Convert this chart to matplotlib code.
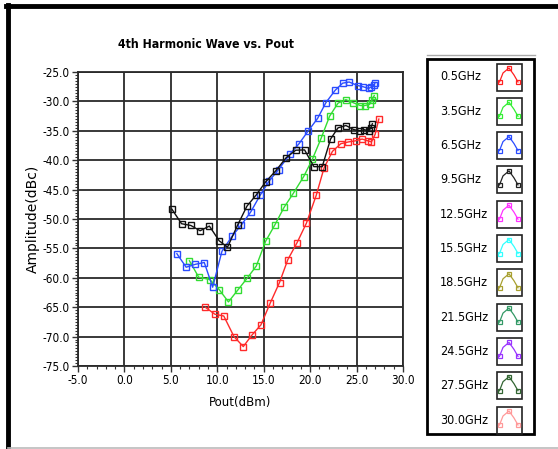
import matplotlib
matplotlib.use("Agg")
import matplotlib.pyplot as plt
from matplotlib.ticker import MultipleLocator, FormatStrFormatter
from matplotlib.patches import Rectangle
from matplotlib.lines import Line2D

plt.rcParams["font.family"] = ["DejaVu Sans"]
plt.rcParams["font.stretch"] = "condensed"

# ---------------- data ----------------
x_05 = [8.7, 9.75, 10.7, 11.8, 12.8, 13.7, 14.7, 15.7, 16.7, 17.6, 18.6, 19.6,
        20.65, 21.5, 22.4, 23.3, 24.1, 24.9, 25.6, 26.2, 26.6, 27.0, 27.4]
y_05 = [-65.0, -66.2, -66.5, -70.0, -71.7, -69.8, -68.0, -64.3, -60.8, -56.9, -54.0, -50.7,
        -46.0, -41.3, -38.5, -37.2, -36.9, -36.7, -36.4, -36.7, -36.9, -35.6, -33.0]

x_35 = [7.0, 8.0, 9.2, 10.2, 11.2, 12.2, 13.2, 14.2, 15.2, 16.2, 17.2, 18.2,
        19.3, 20.25, 21.2, 22.1, 23.0, 23.85, 24.6, 25.4, 25.9, 26.4, 26.65, 26.9]
y_35 = [-57.1, -59.9, -60.3, -62.0, -64.1, -62.1, -60.1, -58.0, -53.8, -51.0, -48.0, -45.6,
        -42.8, -39.8, -36.2, -32.5, -30.3, -29.7, -30.2, -30.7, -30.7, -30.5, -29.8, -29.0]

x_65 = [5.65, 6.65, 7.65, 8.6, 9.5, 10.5, 11.6, 12.6, 13.6, 14.6, 15.6, 16.6,
        17.8, 18.8, 19.8, 20.8, 21.7, 22.7, 23.5, 24.2, 25.1, 25.7, 26.3, 26.6, 26.9, 27.0]
y_65 = [-55.9, -58.2, -57.7, -57.4, -61.6, -55.5, -52.9, -51.0, -48.8, -46.0, -43.5, -41.6,
        -39.0, -37.2, -35.0, -32.9, -30.2, -28.1, -26.9, -26.7, -27.3, -27.5, -27.8, -27.5, -27.2, -26.8]

x_95 = [5.1, 6.15, 7.15, 8.15, 9.15, 10.2, 11.1, 12.2, 13.2, 14.2, 15.2, 16.3,
        17.4, 18.45, 19.4, 20.4, 21.3, 22.2, 23.0, 23.85, 24.7, 25.4, 25.8, 26.3, 26.5, 26.7]
y_95 = [-48.3, -50.8, -51.1, -52.0, -51.2, -53.7, -54.8, -51.0, -47.8, -45.9, -43.7, -41.8,
        -39.6, -38.3, -38.25, -41.1, -41.1, -36.4, -34.5, -34.1, -34.8, -35.0, -34.8, -35.0, -34.6, -33.8]

legend_labels = ["0.5GHz", "3.5GHz", "6.5GHz", "9.5GHz", "12.5GHz", "15.5GHz",
                 "18.5GHz", "21.5GHz", "24.5GHz", "27.5GHz", "30.0GHz"]
legend_colors = ["#ff2020", "#33ee33", "#2a4cff", "#222222", "#ff33ff", "#33ffff",
                 "#a8a030", "#339966", "#9933ff", "#336633", "#ff9999"]

series = [(x_05, y_05, "#ff2a2a"), (x_35, y_35, "#33dd33"),
          (x_65, y_65, "#2a4cff"), (x_95, y_95, "#111111")]

title = "4th Harmonic Wave vs. Pout"
xlabel = "Pout(dBm)"
ylabel = "Amplitude(dBc)"

# ---------------- figure ----------------
W, H = 558, 449
fig = plt.figure(figsize=(W / 100, H / 100), dpi=100)
fig.patch.set_facecolor("white")

def px(x0, y0, x1, y1):
    return [x0 / W, 1 - y1 / H, (x1 - x0) / W, (y1 - y0) / H]

ax = fig.add_axes(px(78, 72, 403, 366))
for xs, ys, c in series:
    ax.plot(xs, ys, color=c, lw=1.0, marker="s", ms=4.0, mfc="none",
            mec=c, mew=1.0, zorder=3)

ax.set_xlim(-5, 30)
ax.set_ylim(-75, -25)
ax.xaxis.set_major_locator(MultipleLocator(5))
ax.xaxis.set_minor_locator(MultipleLocator(1))
ax.yaxis.set_major_locator(MultipleLocator(5))
ax.yaxis.set_minor_locator(MultipleLocator(0.5))
ax.xaxis.set_major_formatter(FormatStrFormatter("%.1f"))
ax.yaxis.set_major_formatter(FormatStrFormatter("%.1f"))
ax.grid(True, which="major", color="#2a2a2a", lw=1.3, zorder=1)
ax.tick_params(which="major", length=4, width=1, color="#333", labelsize=8.5, pad=2)
ax.tick_params(which="minor", length=2.5, width=0.8, color="#333")
for s in ax.spines.values():
    s.set_color("#2a2a2a")
    s.set_linewidth(1.3)
ax.set_xlabel(xlabel, fontsize=8.5, labelpad=6, fontstretch="normal")
ax.set_ylabel(ylabel, fontsize=10, labelpad=2, fontstretch="normal")

fig.text(206 / W, 1 - 45 / H, title, ha="center", va="center",
         fontsize=8.8, fontweight="bold")

# overlay for border and legend, in pixel coordinates
ov = fig.add_axes([0, 0, 1, 1], zorder=-1)
ov.set_xlim(0, W)
ov.set_ylim(H, 0)
ov.axis("off")
ov.patch.set_alpha(0)

ov.add_line(Line2D([7.5, 7.5], [5, H], color="black", lw=3.5))
ov.add_line(Line2D([6, W], [6, 6], color="black", lw=3.5))
ov.add_line(Line2D([8, W], [448, 448], color="#bbbbbb", lw=1.2))

ov2 = fig.add_axes([0, 0, 1, 1], zorder=5)
ov2.set_xlim(0, W)
ov2.set_ylim(H, 0)
ov2.axis("off")
ov2.patch.set_alpha(0)
ov2.add_line(Line2D([427, 535], [55, 55], color="#aaaaaa", lw=1.0))
ov2.add_patch(Rectangle((427, 59), 107, 375, fill=False, ec="black", lw=2.0))

step = 34.3
for i, (lab, c) in enumerate(zip(legend_labels, legend_colors)):
    cy = 77 + step * i
    ov2.text(440, cy, lab, ha="left", va="center", fontsize=9)
    ov2.add_patch(Rectangle((497, cy - 13.5), 24.5, 27, fill=False,
                            ec="#222222", lw=1.2))
    xs = [499.5, 503, 509, 514, 518]
    ys = [cy + 5, cy - 4, cy - 9, cy - 2, cy + 5]
    ov2.add_line(Line2D(xs, ys, color=c, lw=0.9))
    ov2.add_line(Line2D([xs[0], xs[2], xs[4]], [ys[0], ys[2], ys[4]], ls="none",
                        marker="s", ms=3, mfc="none", mec=c, mew=0.9))

fig.savefig("out.png", dpi=100, facecolor="white")
